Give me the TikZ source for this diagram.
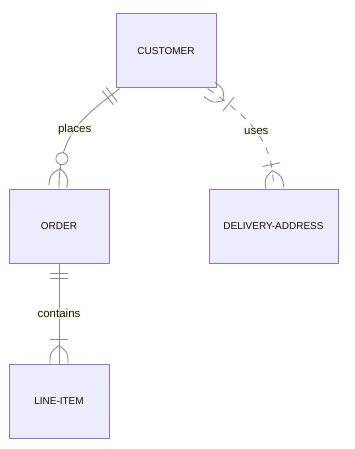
\documentclass[tikz,border=0pt]{standalone}
\usepackage{fontspec}
\setmainfont{Liberation Sans}
\usetikzlibrary{decorations.markings}
\definecolor{entfill}{HTML}{ECECFF}
\definecolor{entline}{HTML}{9370DB}
\definecolor{relline}{HTML}{8C8C8C}
\definecolor{lblfill}{HTML}{F9FFEC}
\definecolor{txt}{HTML}{131300}
\tikzset{
 mk/.style 2 args={postaction={decorate,decoration={markings,mark=at position #1 with {#2}}}},
 bar at/.style={mk={#1}{\draw[solid,relline,line width=.9pt] (0,-9)--(0,9);}},
 crow at/.style 2 args={mk={#1}{\draw[solid,relline,line width=.9pt] (#2*18,-9) .. controls (#2*7,-9) .. (0,0) .. controls (#2*7,9) .. (#2*18,9);}},
 ring at/.style={mk={#1}{\draw[solid,relline,line width=.9pt,fill=white] (0,0) circle (6);}},
 onlyone start/.style={bar at=10pt,bar at=15pt},
 onemany start/.style={crow at={20pt}{-1},bar at=26pt},
 onemany end/.style={crow at={-18pt}{1},bar at=-24pt},
 zeromany end/.style={crow at={-20pt}{1},ring at=-30pt}
}
\begin{document}
\begin{tikzpicture}[x=1pt,y=-1pt,
  ent/.style={draw=entline,fill=entfill,line width=1pt,minimum height=74pt,text=txt,font=\fontsize{10}{12}\selectfont},
  rel/.style={draw=relline,line width=.9pt},
  lbl/.style={fill=lblfill,fill opacity=.6,text opacity=1,text=txt,inner sep=1.5pt,font=\fontsize{11.5}{13}\selectfont}]
\useasboundingbox (0,0) rectangle (354,449);
\foreach \x/\y/\w/\n/\gt in {166/51/100/cust/CUSTOMER,59/226/100/ord/ORDER,273.5/226/129/del/DELIVERY-ADDRESS,59/401/100/li/LINE-ITEM}\node[ent,minimum width=\w pt] (\n) at (\x,\y) {\gt};
\draw[rel,onlyone start,zeromany end] (cust.219) .. controls +(-39,30) and +(0,-54) .. (ord.north) node[lbl,pos=.5]{places};
\draw[rel,dash pattern=on 7pt off 7pt,onemany start,onemany end] (cust.318.6) .. controls +(42,30) and +(0,-49) .. (del.north) node[lbl,pos=.5]{uses};
\draw[rel,onlyone start,onemany end] (ord.south) -- (li.north) node[lbl,pos=.5]{contains};
\end{tikzpicture}
\end{document}
